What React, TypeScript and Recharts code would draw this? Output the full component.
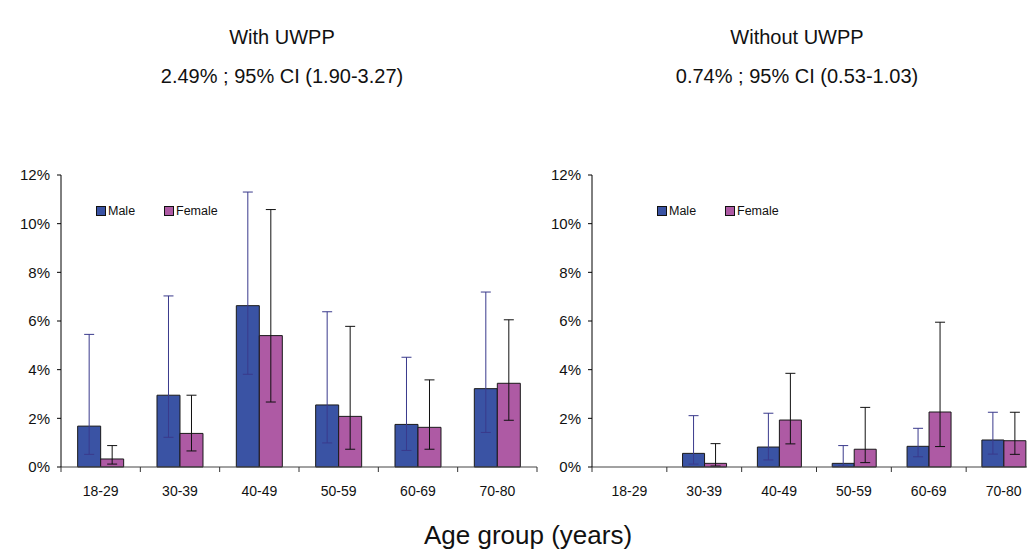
import React from "react"
import { BarChart, Bar, XAxis, YAxis, ErrorBar, Legend } from "recharts"

const ageGroups = ["18-29", "30-39", "40-49", "50-59", "60-69", "70-80"]
const seriesNames = ["Male", "Female"]

// With UWPP (%), point estimate and 95% CI
const withMale = [1.68, 2.95, 6.63, 2.55, 1.75, 3.22]
const withMaleLow = [0.52, 1.22, 3.81, 0.99, 0.68, 1.42]
const withMaleHigh = [5.45, 7.03, 11.3, 6.38, 4.51, 7.19]
const withFemale = [0.33, 1.38, 5.4, 2.08, 1.63, 3.44]
const withFemaleLow = [0.12, 0.66, 2.67, 0.73, 0.73, 1.92]
const withFemaleHigh = [0.88, 2.95, 10.58, 5.78, 3.58, 6.05]

// Without UWPP (%)
const withoutMale = [0, 0.56, 0.82, 0.15, 0.85, 1.11]
const withoutMaleLow = [0, 0.12, 0.29, 0.04, 0.42, 0.53]
const withoutMaleHigh = [0, 2.11, 2.21, 0.88, 1.59, 2.25]
const withoutFemale = [0, 0.15, 1.93, 0.73, 2.26, 1.08]
const withoutFemaleLow = [0, 0.04, 0.95, 0.18, 0.84, 0.52]
const withoutFemaleHigh = [0, 0.96, 3.85, 2.45, 5.95, 2.25]

const yTicks = [0, 2, 4, 6, 8, 10, 12]

const MALE = "#3a53a4"
const FEMALE = "#ae5aa4"
const FONT = '"Liberation Sans", Arial, Helvetica, sans-serif'

function buildRows(m: number[], mLo: number[], mHi: number[], f: number[], fLo: number[], fHi: number[]) {
  return ageGroups.map((age, i) => ({
    age,
    male: m[i],
    maleErr: [m[i] - mLo[i], mHi[i] - m[i]],
    female: f[i],
    femaleErr: [f[i] - fLo[i], fHi[i] - f[i]],
  }))
}

const withData = buildRows(withMale, withMaleLow, withMaleHigh, withFemale, withFemaleLow, withFemaleHigh)
const withoutData = buildRows(withoutMale, withoutMaleLow, withoutMaleHigh, withoutFemale, withoutFemaleLow, withoutFemaleHigh)

function makeTick(band: number) {
  return function AgeTick(props: any) {
    const { x, y, payload, index } = props
    return (
      <g>
        <line x1={x - band / 2} x2={x - band / 2} y1={y} y2={y + 5} stroke="#333" />
        {index === ageGroups.length - 1 && (
          <line x1={x + band / 2} x2={x + band / 2} y1={y} y2={y + 5} stroke="#333" />
        )}
        <text x={x} y={y + 29} textAnchor="middle" fontSize={14} fontFamily={FONT} fill="#111">
          {payload.value}
        </text>
      </g>
    )
  }
}

function LegendBox(props: any) {
  const items = [...(props.payload || [])].sort(
    (a: any, b: any) => seriesNames.indexOf(a.value) - seriesNames.indexOf(b.value)
  )
  return (
    <div style={{ display: "flex", fontFamily: FONT, fontSize: 12.5, color: "#111" }}>
      {items.map((p: any) => (
        <div key={p.value} style={{ display: "flex", alignItems: "center", width: 68 }}>
          <span
            style={{
              display: "inline-block",
              width: 8,
              height: 8,
              background: p.color,
              border: "1px solid #111",
              marginRight: 2,
            }}
          />
          {p.value}
        </div>
      ))}
    </div>
  )
}

function Panel({ data, width, right, legendLeft }: { data: any[]; width: number; right: number; legendLeft: number }) {
  const band = (width - 61 - right) / ageGroups.length
  return (
    <BarChart
      width={width}
      height={350}
      data={data}
      margin={{ top: 15, right, bottom: 13, left: 0 }}
      barCategoryGap="21%"
      barGap={0}
    >
      <XAxis
        dataKey="age"
        stroke="#444"
        tickLine={false}
        tickSize={0}
        tickMargin={0}
        height={30}
        interval={0}
        tick={makeTick(band)}
      />
      <YAxis
        width={61}
        domain={[0, 12]}
        ticks={yTicks}
        stroke="#000"
        tickSize={4}
        tickMargin={7}
        tickFormatter={(v: number) => `${v}%`}
        tick={{ fill: "#111", fontSize: 15, fontFamily: FONT }}
      />
      <Legend
        verticalAlign="top"
        align="left"
        content={<LegendBox />}
        wrapperStyle={{ top: 44, left: legendLeft, width: 200, height: 0, overflow: "visible" }}
      />
      <Bar dataKey="male" name="Male" fill={MALE} stroke="#1a1a1a" strokeWidth={1} isAnimationActive={false}>
        <ErrorBar dataKey="maleErr" width={5} stroke="#3a3a8c" strokeWidth={1} />
      </Bar>
      <Bar dataKey="female" name="Female" fill={FEMALE} stroke="#1a1a1a" strokeWidth={1} isAnimationActive={false}>
        <ErrorBar dataKey="femaleErr" width={5} stroke="#111" strokeWidth={1} />
      </Bar>
    </BarChart>
  )
}

const titleStyle: React.CSSProperties = {
  position: "absolute",
  width: 400,
  textAlign: "center",
  fontFamily: FONT,
  fontSize: 20,
  lineHeight: "23px",
  color: "#111",
}

export default function App() {
  return (
    <div
      style={{
        position: "fixed",
        left: 0,
        top: 0,
        width: 1027,
        height: 550,
        overflow: "hidden",
        background: "#fff",
      }}
    >
      <div style={{ ...titleStyle, left: 82, top: 26 }}>With UWPP</div>
      <div style={{ ...titleStyle, left: 82, top: 65 }}>2.49% ; 95% CI (1.90-3.27)</div>
      <div style={{ ...titleStyle, left: 597, top: 26 }}>Without UWPP</div>
      <div style={{ ...titleStyle, left: 597, top: 65 }}>0.74% ; 95% CI (0.53-1.03)</div>

      <div style={{ position: "absolute", left: 0, top: 160 }}>
        <Panel data={withData} width={545} right={8} legendLeft={96} />
      </div>
      <div style={{ position: "absolute", left: 531, top: 160 }}>
        <Panel data={withoutData} width={510} right={0} legendLeft={126} />
      </div>

      <div
        style={{
          position: "absolute",
          left: 328,
          top: 520,
          width: 400,
          textAlign: "center",
          fontFamily: FONT,
          fontSize: 26,
          lineHeight: "30px",
          color: "#111",
        }}
      >
        Age group (years)
      </div>
    </div>
  )
}
